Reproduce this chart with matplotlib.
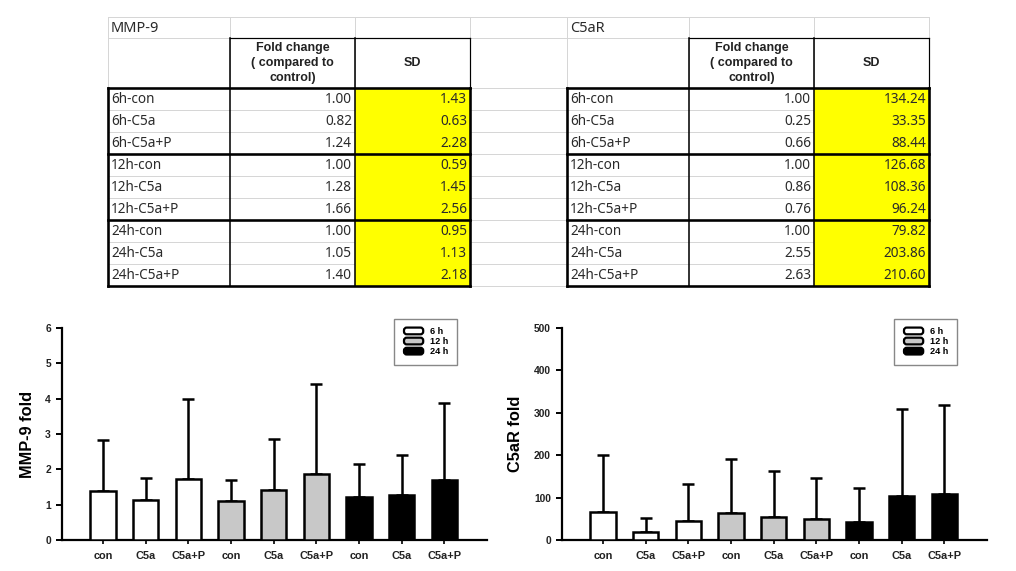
import numpy as np
import matplotlib
matplotlib.use("Agg")
import matplotlib.pyplot as plt
from matplotlib.patches import Rectangle, Patch, FancyBboxPatch
from matplotlib.legend_handler import HandlerPatch

# ---------------- data ----------------
row_labels = ['6h-con', '6h-C5a', '6h-C5a+P',
              '12h-con', '12h-C5a', '12h-C5a+P',
              '24h-con', '24h-C5a', '24h-C5a+P']
mmp_fold = [1.00, 0.82, 1.24, 1.00, 1.28, 1.66, 1.00, 1.05, 1.40]
mmp_sd = [1.43, 0.63, 2.28, 0.59, 1.45, 2.56, 0.95, 1.13, 2.18]
c5ar_fold = [1.00, 0.25, 0.66, 1.00, 0.86, 0.76, 1.00, 2.55, 2.63]
c5ar_sd = [134.24, 33.35, 88.44, 126.68, 108.36, 96.24, 79.82, 203.86, 210.60]
header_fold = 'Fold change\n( compared to\ncontrol)'
header_sd = 'SD'

groups = ['con', 'C5a', 'C5a+P']
times = ['6 h', '12 h', '24 h']
time_colors = ['white', '#c8c8c8', 'black']
mmp_bar = [1.39, 1.13, 1.72, 1.10, 1.42, 1.86, 1.21, 1.27, 1.70]
c5ar_bar = [67, 18, 44, 64, 55, 49, 42, 104, 108]

W, H = 1016, 571
fig = plt.figure(figsize=(W / 100, H / 100), dpi=100)

# ---------------- tables (pixel coordinate overlay) ----------------
tax = fig.add_axes([0, 0, 1, 1])
tax.set_xlim(0, W)
tax.set_ylim(H, 0)
tax.axis('off')

y_title, y_head, y_data, row_h = 17, 38, 88, 22
n_rows = len(row_labels)
y_bot = y_data + row_h * n_rows
left_cols = [108, 230, 355, 470]
right_cols = [567, 689, 814, 929]
all_cols = left_cols + right_cols
grid_c = '#d6d6d6'
px = 0.72  # one pixel in points

# faint spreadsheet grid
for yy in [y_title, y_head] + [y_data + row_h * i for i in range(n_rows + 1)]:
    tax.plot([all_cols[0], all_cols[-1]], [yy, yy], color=grid_c, lw=1.0 * px, zorder=1)
for xx in all_cols:
    tax.plot([xx, xx], [y_title, y_bot], color=grid_c, lw=1.0 * px, zorder=1)

thick = 2.6 * px
thin = 1.2 * px
txt_c = '#2a2a2a'


def draw_table(cols, title, fold, sd):
    c0, c1, c2, c3 = cols
    tax.add_patch(Rectangle((c2, y_data), c3 - c2, y_bot - y_data,
                            facecolor='#ffff00', edgecolor='none', zorder=2))
    tax.add_patch(Rectangle((c0, y_data), c2 - c0, y_bot - y_data,
                            facecolor='white', edgecolor='none', zorder=1.5))
    for i in range(1, n_rows):
        yy = y_data + row_h * i
        tax.plot([c0, c2], [yy, yy], color=grid_c, lw=1.0 * px, zorder=2)
    # header box
    tax.plot([c1, c3], [y_head, y_head], color='black', lw=thin, zorder=3)
    tax.plot([c1, c1], [y_head, y_bot], color='black', lw=thin * 1.3, zorder=3)
    tax.plot([c2, c2], [y_head, y_bot], color='black', lw=thin * 1.3, zorder=3)
    tax.plot([c3, c3], [y_head, y_data], color='black', lw=thin, zorder=3)
    # data box
    tax.plot([c3, c3], [y_data, y_bot], color='black', lw=thick, zorder=3)
    tax.plot([c0, c0], [y_data, y_bot], color='black', lw=thick, zorder=3)
    for yy in [y_data, y_data + 3 * row_h, y_data + 6 * row_h, y_bot]:
        tax.plot([c0, c3], [yy, yy], color='black', lw=thick, zorder=3,
                 solid_capstyle='projecting')
    # texts
    tax.text(c0 + 3, (y_title + y_head) / 2 + 1, title, ha='left', va='center',
             fontsize=10.5, family='Noto Sans', color=txt_c, zorder=4)
    tax.text((c1 + c2) / 2, (y_head + y_data) / 2, header_fold, ha='center',
             va='center', fontsize=9, family='Liberation Sans',
             fontweight='bold', color='#222222', linespacing=1.3, zorder=4)
    tax.text((c2 + c3) / 2, (y_head + y_data) / 2, header_sd, ha='center',
             va='center', fontsize=9, family='Liberation Sans',
             fontweight='bold', color='#222222', zorder=4)
    for i, lab in enumerate(row_labels):
        yc = y_data + row_h * i + row_h / 2 + 0.5
        tax.text(c0 + 3, yc, lab, ha='left', va='center', fontsize=9.8,
                 family='Noto Sans', color=txt_c, zorder=4)
        tax.text(c2 - 3, yc, f'{fold[i]:.2f}', ha='right', va='center',
                 fontsize=9.8, family='Noto Sans', color=txt_c, zorder=4)
        tax.text(c3 - 3, yc, f'{sd[i]:.2f}', ha='right', va='center',
                 fontsize=9.8, family='Noto Sans', color=txt_c, zorder=4)


draw_table(left_cols, 'MMP-9', mmp_fold, mmp_sd)
draw_table(right_cols, 'C5aR', c5ar_fold, c5ar_sd)


# ---------------- bar charts ----------------
class RoundHandler(HandlerPatch):
    def create_artists(self, legend, orig_handle, xdescent, ydescent, width,
                       height, fontsize, trans):
        p = FancyBboxPatch((-xdescent + 1, -ydescent), width - 2, height,
                           boxstyle='round,pad=0,rounding_size=2',
                           facecolor=orig_handle.get_facecolor(),
                           edgecolor='black', lw=1.6, transform=trans)
        return [p]


cat_labels = groups * len(times)
bar_colors = [c for c in time_colors for _ in groups]
x = np.arange(len(cat_labels))
font_c = 'Liberation Sans'


def draw_chart(ax, vals, errs, ymax, ystep, ylabel, ylab_x):
    ax.bar(x, vals, width=0.6, color=bar_colors, edgecolor='black',
           linewidth=1.8, zorder=3,
           yerr=[np.zeros(len(errs)), errs],
           error_kw=dict(ecolor='black', elinewidth=1.8, capsize=4.5,
                         capthick=1.8, zorder=2))
    ax.set_xlim(-0.96, 9.0)
    ax.set_ylim(0, ymax)
    ax.set_yticks(np.arange(0, ymax + ystep / 2, ystep))
    ax.set_xticks(x)
    ax.set_xticklabels(cat_labels)
    for s in ['top', 'right']:
        ax.spines[s].set_visible(False)
    for s in ['left', 'bottom']:
        ax.spines[s].set_linewidth(1.6)
    ax.tick_params(axis='y', length=4, width=1.4, pad=4, labelsize=7.4,
                   labelcolor='#222222')
    ax.tick_params(axis='x', length=3, width=1.2, pad=5, labelsize=7.9,
                   labelcolor='#222222')
    for t in ax.get_xticklabels() + ax.get_yticklabels():
        t.set_fontweight('bold')
        t.set_family(font_c)
    ax.set_ylabel(ylabel, fontsize=11.8, fontweight='bold', family=font_c)
    ax.yaxis.set_label_coords(ylab_x, 0.5)
    handles = [Patch(facecolor=c, edgecolor='black', label=t)
               for c, t in zip(time_colors, times)]
    leg = ax.legend(handles=handles, loc='upper left',
                    bbox_to_anchor=(0.782, 1.043), borderaxespad=0,
                    fancybox=False, framealpha=1, edgecolor='#888888',
                    prop=dict(family=font_c, weight='bold', size=6.6),
                    handlelength=2.4, handleheight=0.75, handletextpad=0.6,
                    labelspacing=0.12, borderpad=0.9,
                    handler_map={Patch: RoundHandler()})
    leg.get_frame().set_linewidth(1.0)


ax1 = fig.add_axes([62 / W, 31 / H, 425 / W, 212 / H])
draw_chart(ax1, mmp_bar, mmp_sd, 6, 1, 'MMP-9 fold', -0.063)
ax2 = fig.add_axes([562 / W, 31 / H, 425 / W, 212 / H])
draw_chart(ax2, c5ar_bar, c5ar_sd, 500, 100, 'C5aR fold', -0.092)

fig.savefig('out.png', dpi=100)
